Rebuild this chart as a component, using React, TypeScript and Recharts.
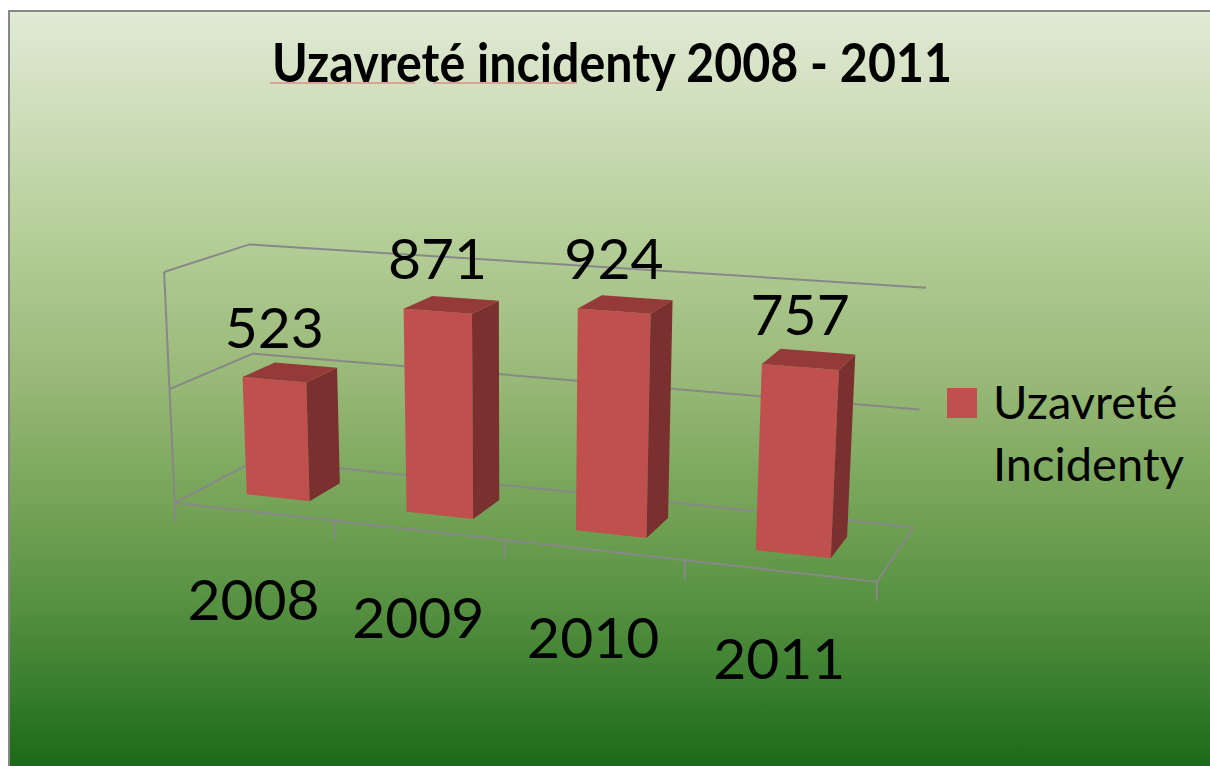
import React from 'react';
import { BarChart, Bar, XAxis, YAxis, CartesianGrid, Legend, LabelList } from 'recharts';

const years = ['2008', '2009', '2010', '2011'];
const closedIncidents = [523, 871, 924, 757];
const yTicks = [0, 500, 1000];
const seriesName = 'Uzavreté Incidenty';
const chartTitle = 'Uzavreté incidenty 2008 - 2011';

const data = years.map((year, i) => ({ year, value: closedIncidents[i] }));

const W = 1210;
const H = 766;
const MARGIN = { top: 240, right: 330, bottom: 150, left: 170 };
const X_AXIS_HEIGHT = 30;
const PLOT = {
    left: MARGIN.left,
    top: MARGIN.top,
    width: W - MARGIN.left - MARGIN.right,
    height: H - MARGIN.top - MARGIN.bottom - X_AXIS_HEIGHT,
};
const FONT = "Lato, 'Noto Sans', sans-serif";
const GRID = '#888888';

// where the corners of the 3d frame land on screen
// [u along categories, v along values, d depth (0 front, 1 back), screen x, screen y]
const FRAME_POINTS = [
    [0, 0, 0, 176, 502],
    [0.25, 0, 0, 334, 520],
    [0.5, 0, 0, 504, 540],
    [0.75, 0, 0, 685, 561],
    [1, 0, 0, 877, 583],
    [0, 0.5, 0, 170, 388],
    [0, 1, 0, 163, 273],
    [0, 0, 1, 256, 463],
    [0, 0.5, 1, 253, 352],
    [0, 1, 1, 250, 244],
    [1, 0, 1, 913, 525],
    [1, 0.5, 1, 920, 409],
    [1, 1, 1, 926, 289],
];
const BAR_DEPTH = [0.3, 0.7];

function solve(A: number[][], b: number[]) {
    const n = b.length;
    const M = A.map((row, i) => [...row, b[i]]);
    for (let c = 0; c < n; c++) {
        let p = c;
        for (let r = c + 1; r < n; r++) if (Math.abs(M[r][c]) > Math.abs(M[p][c])) p = r;
        [M[c], M[p]] = [M[p], M[c]];
        for (let r = c + 1; r < n; r++) {
            const f = M[r][c] / M[c][c];
            for (let k = c; k <= n; k++) M[r][k] -= f * M[c][k];
        }
    }
    const x = new Array(n).fill(0);
    for (let r = n - 1; r >= 0; r--) {
        let s = M[r][n];
        for (let k = r + 1; k < n; k++) s -= M[r][k] * x[k];
        x[r] = s / M[r][r];
    }
    return x;
}

// least squares fit of a perspective camera (3x4 matrix, last entry 1)
function fitCamera(points: number[][]) {
    const n = 11;
    const ata = Array.from({ length: n }, () => new Array(n).fill(0));
    const atb = new Array(n).fill(0);
    const addRow = (row: number[], rhs: number) => {
        for (let i = 0; i < n; i++) {
            atb[i] += row[i] * rhs;
            for (let j = 0; j < n; j++) ata[i][j] += row[i] * row[j];
        }
    };
    points.forEach(([X, Y, Z, px, py]) => {
        const x = px / 1000;
        const y = py / 1000;
        addRow([X, Y, Z, 1, 0, 0, 0, 0, -x * X, -x * Y, -x * Z], x);
        addRow([0, 0, 0, 0, X, Y, Z, 1, -y * X, -y * Y, -y * Z], y);
    });
    return solve(ata, atb);
}

const CAM = fitCamera(FRAME_POINTS);

const project = (u: number, v: number, d: number) => {
    const w = CAM[8] * u + CAM[9] * v + CAM[10] * d + 1;
    return [
        (1000 * (CAM[0] * u + CAM[1] * v + CAM[2] * d + CAM[3])) / w,
        (1000 * (CAM[4] * u + CAM[5] * v + CAM[6] * d + CAM[7])) / w,
    ];
};
const pts = (list: number[][]) => list.map((p) => p.join(',')).join(' ');

const toU = (x: number) => (x - PLOT.left) / PLOT.width;
const toV = (y: number) => (PLOT.top + PLOT.height - y) / PLOT.height;

const Box3D = (props: any) => {
    const { x, y, width, height } = props;
    if (!height) return null;
    const u0 = toU(x);
    const u1 = toU(x + width);
    const vTop = toV(y);
    const vBot = toV(y + height);
    const [d0, d1] = BAR_DEPTH;
    return (
        <g>
            <polygon
                points={pts([project(u0, vBot, d0), project(u1, vBot, d0), project(u1, vTop, d0), project(u0, vTop, d0)])}
                fill="#c0504d"
            />
            <polygon
                points={pts([project(u1, vBot, d0), project(u1, vBot, d1), project(u1, vTop, d1), project(u1, vTop, d0)])}
                fill="#7b3030"
            />
            <polygon
                points={pts([project(u0, vTop, d0), project(u1, vTop, d0), project(u1, vTop, d1), project(u0, vTop, d1)])}
                fill="#943a38"
            />
        </g>
    );
};

const ValueLabel = (props: any) => {
    const box = props.viewBox && props.viewBox.width != null ? props.viewBox : props;
    const [px, py] = project(toU(box.x + box.width / 2), toV(box.y), BAR_DEPTH[0]);
    return (
        <text x={px} y={py - 32} textAnchor="middle" fontFamily={FONT} fontSize={57} fill="#000">
            {props.value}
        </text>
    );
};

const gridLine = (props: any) => {
    const { y1, index } = props;
    const v = toV(y1);
    const isFloor = Math.abs(v) < 1e-6;
    return (
        <g key={`grid-${index}`}>
            <polyline
                points={pts([project(0, v, 0), project(0, v, 1), project(1, v, 1)])}
                fill="none"
                stroke={GRID}
                strokeWidth={2}
            />
            {isFloor && (
                <>
                    <polyline
                        points={pts([project(0, 1, 0), project(0, 0, 0), project(1, 0, 0), project(1, 0, 1)])}
                        fill="none"
                        stroke={GRID}
                        strokeWidth={2}
                    />
                    {years.concat(['']).map((_, k) => {
                        const [tx, ty] = project(k / years.length, 0, 0);
                        return <line key={k} x1={tx} y1={ty} x2={tx} y2={ty + 19} stroke={GRID} strokeWidth={2} />;
                    })}
                </>
            )}
        </g>
    );
};

const YTick = (props: any) => {
    const { y, payload } = props;
    const [px, py] = project(0, toV(y), 0);
    return (
        <g>
            <line x1={px - 8} y1={py} x2={px} y2={py} stroke={GRID} strokeWidth={2} />
            <text x={px - 26} y={py + 7} textAnchor="end" fontFamily={FONT} fontSize={20} fill="#000">
                {payload.value}
            </text>
        </g>
    );
};

const XTick = (props: any) => {
    const { x, payload } = props;
    const [px, py] = project(toU(x), 0, 0);
    return (
        <text x={px} y={py + 108} textAnchor="middle" fontFamily={FONT} fontSize={57} fill="#000">
            {payload.value}
        </text>
    );
};

const LegendBox = ({ payload }: any) => (
    <div style={{ fontFamily: FONT }}>
        {(payload || []).map((entry: any) => (
            <div key={entry.value} style={{ display: 'flex', alignItems: 'flex-start' }}>
                <div
                    style={{
                        width: 30,
                        height: 30,
                        background: entry.color,
                        marginTop: 18,
                        marginRight: 16,
                        flexShrink: 0,
                    }}
                />
                <div style={{ fontSize: 47, lineHeight: '62px', width: 200, color: '#000' }}>{entry.value}</div>
            </div>
        ))}
    </div>
);

const BG =
    'linear-gradient(to bottom, #e0ead5 0%, #d0dfbd 12%, #b5ce98 30%, #96b775 50%, #6fa052 68%, #538e3f 80%, #377d2d 90%, #1b6a19 100%)';

export default function App() {
    return (
        <div style={{ position: 'fixed', left: 0, top: 0, width: W, height: H, overflow: 'hidden', background: '#fff' }}>
            <div
                style={{
                    position: 'absolute',
                    left: 8,
                    top: 10,
                    width: W - 8,
                    height: H - 10,
                    boxSizing: 'border-box',
                    borderTop: '2px solid #878787',
                    borderLeft: '2px solid #878787',
                    background: BG,
                }}
            />
            <div style={{ position: 'absolute', left: 0, top: 0, width: W, height: H }}>
                <BarChart width={W} height={H} data={data} margin={MARGIN} barCategoryGap="30%">
                    <CartesianGrid horizontal={gridLine} vertical={false} />
                    <XAxis
                        dataKey="year"
                        height={X_AXIS_HEIGHT}
                        interval={0}
                        axisLine={false}
                        tickLine={false}
                        tick={<XTick />}
                    />
                    <YAxis
                        width={0}
                        domain={[0, 1000]}
                        ticks={yTicks}
                        interval={0}
                        axisLine={false}
                        tickLine={false}
                        tick={<YTick />}
                    />
                    <Legend
                        layout="vertical"
                        align="center"
                        verticalAlign="middle"
                        content={<LegendBox />}
                        wrapperStyle={{ left: 947, top: 370, width: 260 }}
                    />
                    <Bar
                        dataKey="value"
                        name={seriesName}
                        fill="#c0504d"
                        isAnimationActive={false}
                        shape={(p: any) => <Box3D {...p} />}
                    >
                        <LabelList dataKey="value" content={<ValueLabel />} />
                    </Bar>
                </BarChart>
                <svg
                    width={W}
                    height={120}
                    style={{ position: 'absolute', left: 0, top: 0, pointerEvents: 'none' }}
                >
                    <text
                        x={612}
                        y={82}
                        textAnchor="middle"
                        fontFamily={FONT}
                        fontWeight="bold"
                        fontSize={54}
                        textLength={680}
                        lengthAdjust="spacingAndGlyphs"
                        fill="#000"
                    >
                        {chartTitle}
                    </text>
                    <line x1={270} y1={83} x2={415} y2={83} stroke="#e06666" strokeWidth={1} />
                    <line x1={433} y1={83} x2={577} y2={83} stroke="#e06666" strokeWidth={1} />
                </svg>
            </div>
        </div>
    );
}
